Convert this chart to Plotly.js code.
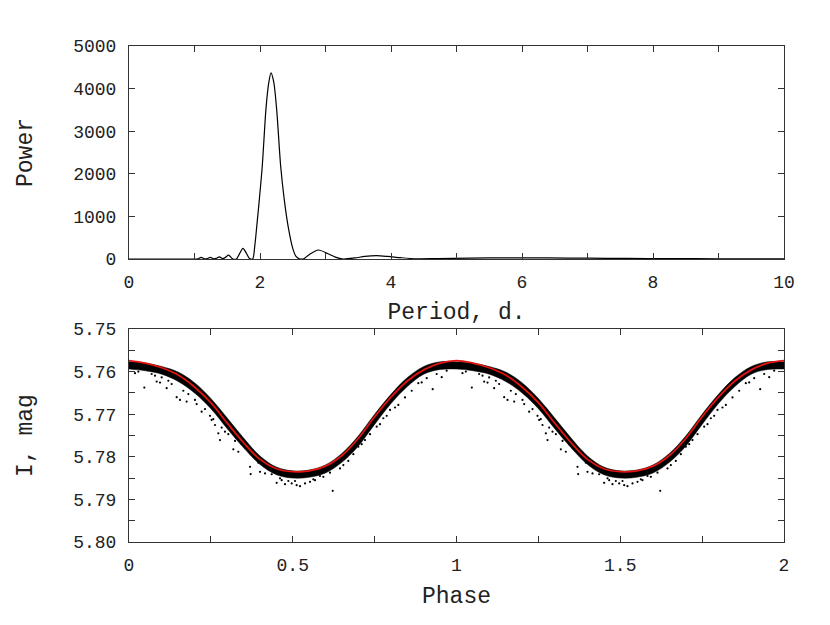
<!DOCTYPE html>
<html>
<head>
<meta charset="utf-8">
<script src="https://cdn.plot.ly/plotly-3.0.1.min.js"></script>
<style>
  html, body { margin: 0; padding: 0; background: #fff; }
  #plot { width: 830px; height: 625px; }
</style>
</head>
<body>
<div id="plot"></div>
<script>
// periodogram (top panel)
var period = [0, 0.5, 1.0, 1.05, 1.10, 1.15, 1.20, 1.24, 1.29, 1.33, 1.38, 1.43, 1.47, 1.52, 1.58, 1.64,
  1.69, 1.74, 1.79, 1.84, 1.888, 1.92, 1.95, 1.99, 2.035, 2.09, 2.13, 2.168, 2.21, 2.255, 2.315,
  2.37, 2.43, 2.50, 2.55, 2.60, 2.66, 2.75, 2.89, 3.03, 3.15, 3.27, 3.45, 3.60, 3.78, 3.95, 4.15,
  4.39, 4.7, 5.2, 5.8, 6.4, 7.0, 7.6, 8.2, 9.0, 10.0];
var power = [0, 0, 0, 2, 40, 5, 12, 40, 5, 15, 50, 10, 35, 90, 5, 0,
  130, 250, 140, 10, 0, 300, 760, 1400, 2190, 3500, 4100, 4370, 4150, 3500, 2190,
  1400, 760, 250, 60, 5, 0, 100, 211, 130, 45, 0, 25, 60, 77, 60, 30,
  5, 10, 22, 28, 25, 18, 12, 8, 5, 3];

// phased light curve (bottom panel), one cycle, repeated for phase 1-2
var phase = [0, 0.05, 0.10, 0.15, 0.20, 0.25, 0.30, 0.35, 0.40, 0.45, 0.50,
  0.55, 0.60, 0.65, 0.70, 0.75, 0.80, 0.85, 0.90, 0.95, 1.00];
var fitMag = [5.7574, 5.7580, 5.7591, 5.7608, 5.7636, 5.7673, 5.7721, 5.7767, 5.7806, 5.7828, 5.7835,
  5.7833, 5.7822, 5.7797, 5.7757, 5.7706, 5.7660, 5.7622, 5.7596, 5.7580, 5.7574];
var bandTop = [5.7577, 5.7580, 5.7588, 5.7601, 5.7626, 5.7663, 5.7709, 5.7756, 5.7798, 5.7824, 5.7833,
  5.7831, 5.7819, 5.7792, 5.7751, 5.7700, 5.7653, 5.7614, 5.7588, 5.7577, 5.7577];
var bandBottom = [5.7594, 5.7598, 5.7606, 5.7623, 5.7650, 5.7687, 5.7734, 5.7779, 5.7818, 5.7842, 5.7850,
  5.7848, 5.7838, 5.7813, 5.7775, 5.7724, 5.7675, 5.7635, 5.7606, 5.7595, 5.7594];

// scattered points off the main band
var outPhase = [0.0183, 0.0285, 0.0468, 0.0845, 0.0947, 0.1150, 0.1456, 0.1557, 0.1761, 0.2015,
  0.2219, 0.2524, 0.2626, 0.2728, 0.2779, 0.2931, 0.3186, 0.3338, 0.3695, 0.3715, 0.4000,
  0.4153, 0.4509, 0.4662, 0.4763, 0.4968, 0.5221, 0.5527, 0.5679, 0.5934, 0.6220, 0.6443,
  0.6545, 0.7003, 0.7206, 0.7563, 0.7766, 0.7970, 0.8224, 0.8834, 0.9090, 0.9273, 0.9548,
  0.0692, 0.0794, 0.0997, 0.1201, 0.1303, 0.1659, 0.1812, 0.2066, 0.2321, 0.2473, 0.2575,
  0.2830, 0.3033, 0.3237, 0.3441, 0.3542, 0.3847, 0.3949, 0.4254, 0.4356, 0.4611, 0.4865,
  0.5069, 0.5120, 0.5374, 0.5628, 0.5832, 0.6137, 0.6697, 0.6850, 0.7105, 0.7359, 0.7664,
  0.7868, 0.8122, 0.8427, 0.8632, 0.8937, 0.9395, 0.9700];
var outMag = [5.76036, 5.75998, 5.76375, 5.76233, 5.76257, 5.76389, 5.76601, 5.76664, 5.76704, 5.76664,
  5.76940, 5.77135, 5.77253, 5.77448, 5.77606, 5.77410, 5.77825, 5.77881, 5.78234, 5.78406, 5.78352,
  5.78390, 5.78611, 5.78548, 5.78642, 5.78625, 5.78689, 5.78588, 5.78548, 5.78470, 5.78799, 5.78272,
  5.78194, 5.77764, 5.77606, 5.77293, 5.77095, 5.76900, 5.76782, 5.76271, 5.76153, 5.76412, 5.76130,
  5.76056, 5.76096, 5.76136, 5.76214, 5.76291, 5.76449, 5.76527, 5.76762, 5.76880, 5.77037, 5.77115,
  5.77313, 5.77468, 5.77626, 5.77704, 5.77784, 5.78019, 5.78137, 5.78292, 5.78410, 5.78504, 5.78568,
  5.78568, 5.78665, 5.78625, 5.78528, 5.78450, 5.78372, 5.78097, 5.77939, 5.77704, 5.77468, 5.77233,
  5.77037, 5.76842, 5.76607, 5.76449, 5.76253, 5.76056, 5.75978];

function twoCycles(p) { return p.concat(p.slice(1).map(function (v) { return v + 1; })); }
function repeatCycle(m) { return m.concat(m.slice(1)); }

var phase2 = twoCycles(phase);
var outPhase2 = outPhase.concat(outPhase.map(function (v) { return v + 1; }));
var outMag2 = outMag.concat(outMag);

var font = 'Liberation Mono, Courier New, monospace';
var axisCol = '#333';

var traces = [
  {
    x: period, y: power, xaxis: 'x', yaxis: 'y',
    type: 'scatter', mode: 'lines',
    line: {color: '#000', width: 1.2, shape: 'spline', smoothing: 0.8},
    hoverinfo: 'skip'
  },
  {
    x: phase2, y: repeatCycle(bandBottom), xaxis: 'x2', yaxis: 'y2',
    type: 'scatter', mode: 'lines',
    line: {color: '#000', width: 0.5, shape: 'spline'}
  },
  {
    x: phase2, y: repeatCycle(bandTop), xaxis: 'x2', yaxis: 'y2',
    type: 'scatter', mode: 'lines', fill: 'tonexty', fillcolor: '#000',
    line: {color: '#000', width: 0.5, shape: 'spline'}
  },
  {
    x: outPhase2, y: outMag2, xaxis: 'x2', yaxis: 'y2',
    type: 'scatter', mode: 'markers',
    marker: {color: '#000', size: 2.2}
  },
  {
    x: phase2, y: repeatCycle(fitMag), xaxis: 'x2', yaxis: 'y2',
    type: 'scatter', mode: 'lines',
    line: {color: '#e3140f', width: 1.8, shape: 'spline'}
  }
];

function axis(extra) {
  var a = {
    showline: true, linecolor: axisCol, linewidth: 1, mirror: 'allticks',
    ticks: 'inside', ticklen: 6, tickcolor: axisCol, tickwidth: 1,
    showgrid: false, zeroline: false,
    tickfont: {family: font, size: 18, color: '#222'}
  };
  for (var k in extra) a[k] = extra[k];
  return a;
}

var layout = {
  width: 830, height: 625,
  margin: {l: 129, r: 46, t: 46, b: 83},
  paper_bgcolor: '#fff', plot_bgcolor: '#fff',
  showlegend: false,
  xaxis: axis({
    anchor: 'y', range: [0, 10], dtick: 2, tick0: 0,
    minor: {dtick: 1, ticks: 'inside', ticklen: 6, tickcolor: axisCol},
    ticklabelstandoff: 6,
    title: {text: 'Period, d.', font: {family: font, size: 23, color: '#222'}, standoff: 11}
  }),
  yaxis: axis({
    anchor: 'x', domain: [0.5706, 1], range: [0, 5000], dtick: 1000,
    ticklabelstandoff: 8,
    title: {text: 'Power', font: {family: font, size: 23, color: '#222'}, standoff: 34}
  }),
  xaxis2: axis({
    anchor: 'y2', range: [0, 2], dtick: 0.5, tick0: 0,
    minor: {dtick: 0.25, ticks: 'inside', ticklen: 6, tickcolor: axisCol},
    ticklabelstandoff: 6,
    title: {text: 'Phase', font: {family: font, size: 23, color: '#222'}, standoff: 12}
  }),
  yaxis2: axis({
    anchor: 'x2', domain: [0, 0.4294], range: [5.80, 5.75], dtick: 0.01, tick0: 5.75,
    tickformat: '.2f',
    minor: {dtick: 0.005, ticks: 'inside', ticklen: 6, tickcolor: axisCol},
    ticklabelstandoff: 8,
    title: {text: 'I, mag', font: {family: font, size: 23, color: '#222'}, standoff: 34}
  })
};

Plotly.newPlot('plot', traces, layout, {displayModeBar: false, staticPlot: true});
</script>
</body>
</html>
